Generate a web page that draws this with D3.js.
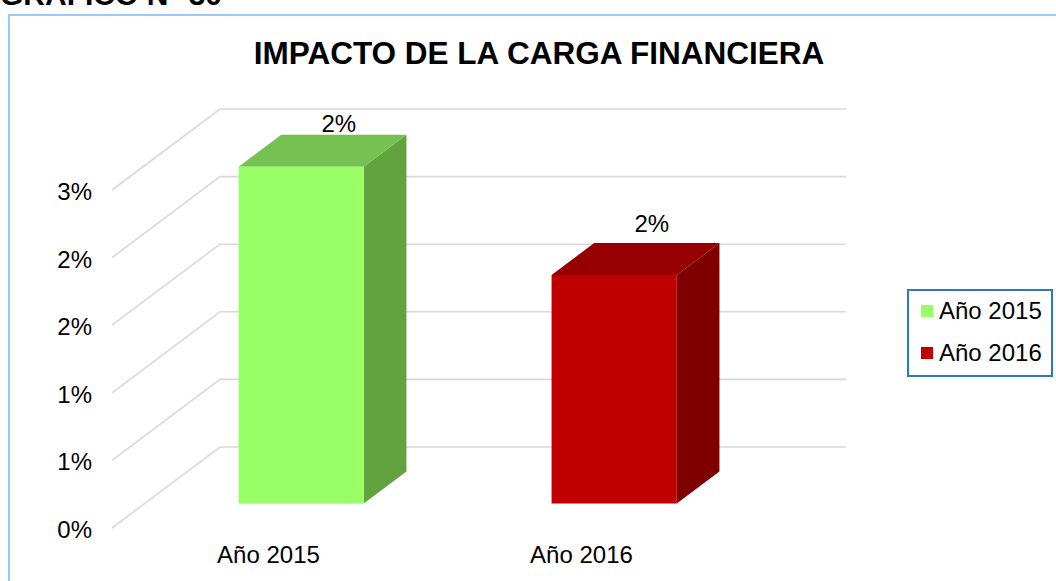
<!DOCTYPE html>
<html>
<head>
<meta charset="utf-8">
<script src="https://cdn.jsdelivr.net/npm/d3@7"></script>
<style>
  html, body { margin: 0; padding: 0; background: #fff; }
  svg { display: block; font-family: "Liberation Sans", Arial, sans-serif; }
</style>
</head>
<body>
<svg id="chart" width="1056" height="581"></svg>
<script>
// ---- data ----
const categories = ["Año 2015", "Año 2016"];
const values = [0.0249, 0.0169];
const tickValues = [0, 0.005, 0.01, 0.015, 0.02, 0.025];
const tickLabels = ["0%", "1%", "1%", "2%", "2%", "3%"];
const seriesColors = [
  { front: "#99FF66", top: "#76C250", side: "#63A33F" },
  { front: "#C00000", top: "#960000", side: "#7F0000" }
];

const svg = d3.select("#chart");

// chart area frame
svg.append("path")
  .attr("d", "M9,581 V15 H1056")
  .attr("fill", "none")
  .attr("stroke", "#9DC8F2")
  .attr("stroke-width", 2);

// heading above the frame
svg.append("text")
  .attr("x", 0).attr("y", 5)
  .attr("font-size", 30).attr("font-weight", "bold")
  .attr("fill", "#000")
  .text("GRAFICO N° 30");

// chart title
svg.append("text")
  .attr("x", 539).attr("y", 64)
  .attr("text-anchor", "middle")
  .attr("font-size", 31.5).attr("font-weight", "bold")
  .attr("fill", "#000")
  .text("IMPACTO DE LA CARGA FINANCIERA");

// ---- 3D oblique projection ----
const origin = { x: 112, y: 528 };      // front-left corner of floor
const depth = { x: 108, y: -81 };       // full depth offset
const wallWidth = 626;

const x = d3.scaleBand().domain(categories).range([0, wallWidth]);
const y = d3.scaleLinear().domain([0, 0.025]).range([0, 338]);

const proj = (u, v, z) => [origin.x + u + depth.x * z, origin.y - y(v) - depth.y * -z];

// gridlines: side wall diagonals + back wall horizontals
const grid = svg.append("g").attr("stroke", "#D9D9D9").attr("stroke-width", 1.6).attr("fill", "none");
tickValues.forEach(t => {
  const a = proj(0, t, 0), b = proj(0, t, 1), c = proj(wallWidth, t, 1);
  grid.append("path").attr("d", `M${a[0]},${a[1]} L${b[0]},${b[1]} L${c[0]},${c[1]}`);
});

// y-axis tick labels
svg.append("g").selectAll("text")
  .data(tickValues)
  .join("text")
  .attr("x", 92)
  .attr("y", d => proj(0, d, 0)[1] + 10)
  .attr("text-anchor", "end")
  .attr("font-size", 24)
  .attr("fill", "#000")
  .text((d, i) => tickLabels[i]);

// bars
const gapWidth = 1.5;
const barW = x.bandwidth() / (1 + gapWidth);
const barDepth = 0.395;
const z0 = (1 - barDepth) / 2, z1 = z0 + barDepth;
const poly = pts => "M" + pts.map(p => p.join(",")).join("L") + "Z";

const bars = svg.append("g");
categories.forEach((c, i) => {
  const v = values[i];
  const u0 = x(c) + (x.bandwidth() - barW) / 2, u1 = u0 + barW;
  const col = seriesColors[i];
  const g = bars.append("g");
  // right side face
  g.append("path").attr("fill", col.side)
    .attr("d", poly([proj(u1, 0, z0), proj(u1, 0, z1), proj(u1, v, z1), proj(u1, v, z0)]));
  // top face
  g.append("path").attr("fill", col.top)
    .attr("d", poly([proj(u0, v, z0), proj(u1, v, z0), proj(u1, v, z1), proj(u0, v, z1)]));
  // front face
  g.append("path").attr("fill", col.front)
    .attr("d", poly([proj(u0, 0, z0), proj(u1, 0, z0), proj(u1, v, z0), proj(u0, v, z0)]));

  // value label above the bar
  const backTop = proj(x(c) + x.bandwidth() / 2, v, z1);
  const wallTop = proj(0, tickValues[tickValues.length - 1], 1)[1];
  svg.append("text")
    .attr("x", backTop[0] - 5)
    .attr("y", Math.max(backTop[1] - 11, wallTop + 23))
    .attr("text-anchor", "middle")
    .attr("font-size", 24)
    .attr("fill", "#000")
    .text(d3.format(".0%")(v));

  // category label
  svg.append("text")
    .attr("x", origin.x + x(c) + x.bandwidth() / 2)
    .attr("y", 563)
    .attr("text-anchor", "middle")
    .attr("font-size", 24)
    .attr("fill", "#000")
    .text(c);
});

// legend
const legend = svg.append("g");
legend.append("rect")
  .attr("x", 908).attr("y", 290).attr("width", 144).attr("height", 86)
  .attr("fill", "#fff").attr("stroke", "#3476BC").attr("stroke-width", 2);
categories.forEach((c, i) => {
  const ly = 305 + i * 42;
  legend.append("rect")
    .attr("x", 921).attr("y", ly).attr("width", 12).attr("height", 12)
    .attr("fill", seriesColors[i].front);
  legend.append("text")
    .attr("x", 939).attr("y", ly + 14)
    .attr("font-size", 24)
    .attr("fill", "#000")
    .text(c);
});
</script>
</body>
</html>
